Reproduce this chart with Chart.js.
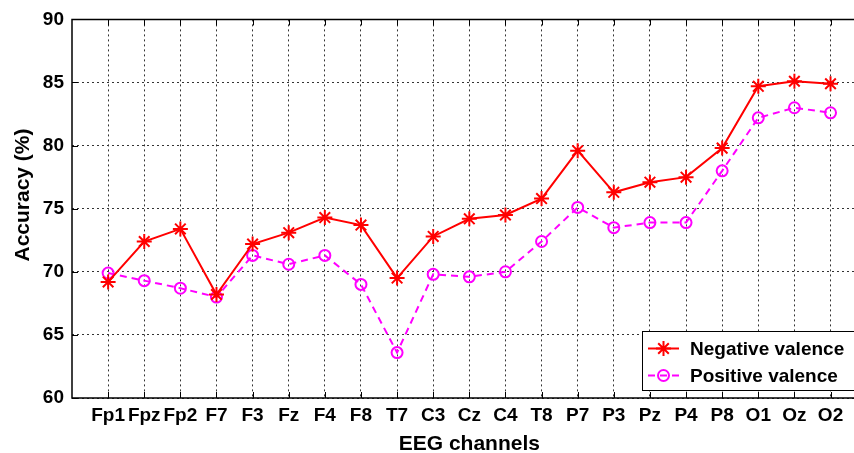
<!DOCTYPE html>
<html>
<head>
<meta charset="utf-8">
<script src="https://cdn.jsdelivr.net/npm/chart.js@4.4.1/dist/chart.umd.min.js"></script>
<style>
  html, body { margin: 0; padding: 0; background: #fff; overflow: hidden; width: 854px; height: 453px; }
  canvas { display: block; }
</style>
</head>
<body>
<canvas id="chart" width="854" height="453"></canvas>
<script>
// EEG channels on the horizontal axis
const channels = ['Fp1','Fpz','Fp2','F7','F3','Fz','F4','F8','T7','C3','Cz','C4','T8','P7','P3','Pz','P4','P8','O1','Oz','O2'];
// Classification accuracy (%) per channel
const negativeValence = [69.2,72.4,73.4,68.2,72.2,73.1,74.3,73.7,69.5,72.8,74.2,74.5,75.8,79.6,76.3,77.1,77.5,79.8,84.7,85.1,84.9];
const positiveValence = [69.9,69.3,68.7,68.0,71.3,70.6,71.3,69.0,63.6,69.8,69.6,70.0,72.4,75.1,73.5,73.9,73.9,78.0,82.2,83.0,82.6];
// Accuracy ticks
const yTicks = [60,65,70,75,80,85,90];

const FONT = '"Liberation Sans", Arial, Helvetica, sans-serif';

function toPoints(values) {
  return values.map((v, i) => ({ x: i, y: v }));
}

// Solid box, inward ticks, axis titles and the legend
const framePlugin = {
  id: 'frame',
  afterDatasetsDraw(chart) {
    const { ctx, chartArea: a, scales } = chart;
    const xs = scales.x, ys = scales.y;
    ctx.save();
    ctx.strokeStyle = '#000';
    ctx.lineWidth = 1.5;
    ctx.setLineDash([]);
    ctx.beginPath();
    ctx.moveTo(a.right + 2, a.top); ctx.lineTo(a.left, a.top);
    ctx.lineTo(a.left, a.bottom); ctx.lineTo(a.right + 2, a.bottom);
    ctx.stroke();

    // inward tick marks
    ctx.lineWidth = 1;
    const tl = 6;
    ctx.beginPath();
    channels.forEach((c, i) => {
      const px = Math.round(xs.getPixelForValue(i)) + 0.5;
      ctx.moveTo(px, a.bottom); ctx.lineTo(px, a.bottom - tl);
      ctx.moveTo(px, a.top); ctx.lineTo(px, a.top + tl);
    });
    yTicks.forEach(v => {
      const py = Math.round(ys.getPixelForValue(v)) + 0.5;
      ctx.moveTo(a.left, py); ctx.lineTo(a.left + tl, py);
    });
    ctx.stroke();

    // axis titles
    ctx.fillStyle = '#000';
    ctx.font = 'bold 21px ' + FONT;
    ctx.textAlign = 'center';
    ctx.textBaseline = 'alphabetic';
    ctx.fillText('EEG channels', xs.getPixelForValue(10), 450);
    ctx.save();
    ctx.translate(28.5, 195);
    ctx.rotate(-Math.PI / 2);
    ctx.fillText('Accuracy (%)', 0, 0);
    ctx.restore();

    // legend
    const lx = 642.5, ly = 331.5, lw = 240, lh = 59;
    ctx.fillStyle = '#fff';
    ctx.fillRect(lx, ly, lw, lh);
    ctx.strokeStyle = '#000';
    ctx.lineWidth = 1;
    ctx.strokeRect(lx, ly, lw, lh);
    const rows = [348.5, 375.5];
    chart.data.datasets.forEach((ds, k) => {
      const y = rows[k];
      ctx.strokeStyle = ds.borderColor;
      ctx.lineWidth = ds.borderWidth;
      ctx.setLineDash(ds.borderDash || []);
      ctx.beginPath();
      ctx.moveTo(648, y); ctx.lineTo(679, y);
      ctx.stroke();
      ctx.setLineDash([]);
      ctx.lineWidth = ds.pointBorderWidth;
      const mx = 663.5, r = ds.pointRadius;
      ctx.beginPath();
      if (ds.pointStyle === 'star') {
        ctx.moveTo(mx - r, y); ctx.lineTo(mx + r, y);
        ctx.moveTo(mx, y - r); ctx.lineTo(mx, y + r);
        const d = r * Math.SQRT1_2;
        ctx.moveTo(mx - d, y - d); ctx.lineTo(mx + d, y + d);
        ctx.moveTo(mx - d, y + d); ctx.lineTo(mx + d, y - d);
      } else {
        ctx.arc(mx, y, r, 0, Math.PI * 2);
      }
      ctx.stroke();
      ctx.fillStyle = '#000';
      ctx.font = 'bold 19px ' + FONT;
      ctx.textAlign = 'left';
      ctx.textBaseline = 'middle';
      ctx.fillText(ds.label, 690, y + 1);
    });
    ctx.restore();
  }
};

new Chart(document.getElementById('chart'), {
  type: 'line',
  data: {
    datasets: [
      {
        label: 'Negative valence',
        data: toPoints(negativeValence),
        borderColor: '#ff0000',
        borderWidth: 2,
        pointStyle: 'star',
        pointRadius: 7.5,
        pointBorderWidth: 2,
        pointBorderColor: '#ff0000',
        pointBackgroundColor: '#ff0000',
        tension: 0
      },
      {
        label: 'Positive valence',
        data: toPoints(positiveValence),
        borderColor: '#ff00ff',
        borderWidth: 2,
        borderDash: [7, 5],
        pointStyle: 'circle',
        pointRadius: 5.5,
        pointBorderWidth: 2,
        pointBorderColor: '#ff00ff',
        pointBackgroundColor: 'rgba(0,0,0,0)',
        tension: 0
      }
    ]
  },
  options: {
    responsive: false,
    animation: false,
    devicePixelRatio: 1,
    layout: { autoPadding: false, padding: { top: 15, right: 0, left: 0, bottom: 0 } },
    plugins: { legend: { display: false }, tooltip: { enabled: false } },
    elements: { point: { hoverRadius: 5.5 } },
    scales: {
      x: {
        type: 'linear',
        min: -1,
        max: 20.65,   // the plot box is cut off at the right edge
        afterFit(s) { s.height = 55; s.paddingLeft = 0; s.paddingRight = 0; },
        afterBuildTicks(s) { s.ticks = channels.map((c, i) => ({ value: i })); },
        ticks: {
          autoSkip: false,
          maxRotation: 0,
          padding: 6,
          color: '#000',
          font: { family: FONT, size: 19, weight: 'bold' },
          callback: (v) => channels[v] ?? ''
        },
        grid: { color: '#333', lineWidth: 1, drawTicks: false },
        border: { display: false, dash: [2, 3] }
      },
      y: {
        type: 'linear',
        min: 60,
        max: 90,
        afterFit(s) { s.width = 72; },
        afterBuildTicks(s) { s.ticks = yTicks.map(v => ({ value: v })); },
        ticks: {
          padding: 8,
          color: '#000',
          font: { family: FONT, size: 19, weight: 'bold' }
        },
        grid: { color: '#333', lineWidth: 1, drawTicks: false },
        border: { display: false, dash: [2, 3] }
      }
    }
  },
  plugins: [framePlugin]
});
</script>
</body>
</html>
